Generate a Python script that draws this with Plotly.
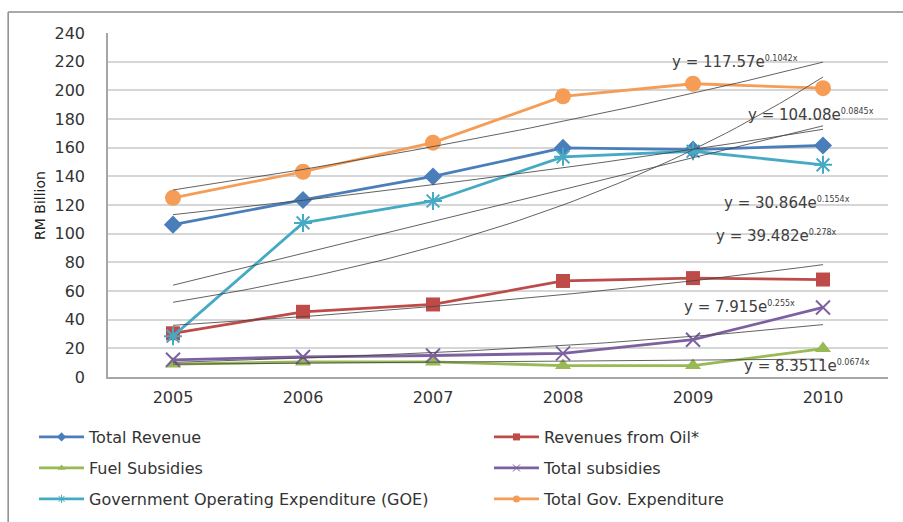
import numpy as np
import plotly.graph_objects as go

# ---- data (RM billion) ----
years = [2005, 2006, 2007, 2008, 2009, 2010]
total_revenue = [106.3, 123.5, 139.9, 159.8, 158.6, 161.5]
oil_revenue = [30.5, 45.5, 50.6, 67.0, 69.0, 68.0]
fuel_subsidies = [9.0, 10.5, 10.5, 8.0, 8.0, 19.8]
total_subsidies = [12.0, 14.0, 15.0, 16.5, 26.0, 48.5]
goe = [28.5, 107.5, 122.8, 153.6, 157.5, 148.0]
total_gov_exp = [125.0, 143.2, 163.5, 195.8, 204.6, 201.5]

# exponential trend fits y = a*e^(b*x), x = 1..6 for 2005..2010
trend_a = [117.57, 104.08, 30.864, 39.482, 7.915, 8.3511]
trend_b = [0.1042, 0.0845, 0.1554, 0.278, 0.255, 0.0674]
trend_a_txt = ["117.57", "104.08", "30.864", "39.482", "7.915", "8.3511"]
trend_b_txt = ["0.1042", "0.0845", "0.1554", "0.278", "0.255", "0.0674"]
# label anchor points (year, value)
label_x = [2009.32, 2009.91, 2009.72, 2009.64, 2009.36, 2009.88]
label_y = [219.5, 182.5, 121.5, 98.5, 48.5, 8.0]

FONT = "DejaVu Sans"
fig = go.Figure()

# name, values, colour, symbol, marker size, marker line width, legend id
series = [
    ("Total Revenue", total_revenue, "#4A7EBB", "diamond", 14, 0, "legend"),
    ("Revenues from Oil*", oil_revenue, "#BE4B48", "square", 14, 0, "legend2"),
    ("Fuel Subsidies", fuel_subsidies, "#98B954", "triangle-up", 14, 0, "legend3"),
    ("Total subsidies", total_subsidies, "#7D60A0", "x-thin-open", 14, 2, "legend4"),
    ("Government Operating Expenditure (GOE)", goe, "#46AAC5", "asterisk-open", 15, 2, "legend5"),
    ("Total Gov. Expenditure", total_gov_exp, "#F59D56", "circle", 16, 0, "legend6"),
]
for name, vals, col, sym, size, lw, leg in series:
    fig.add_trace(go.Scatter(
        x=years, y=vals, name=name, mode="lines+markers",
        line=dict(color=col, width=2.8),
        marker=dict(symbol=sym, size=size, color=col,
                    line=dict(color=col, width=lw)),
        showlegend=False,
    ))

# exponential trend curves
t = np.linspace(1, 6, 61)
for a, b in zip(trend_a, trend_b):
    fig.add_trace(go.Scatter(
        x=2004 + t, y=a * np.exp(b * t), mode="lines",
        line=dict(color="rgba(70,70,70,0.85)", width=1),
        showlegend=False, hoverinfo="skip",
    ))

# linear trend of operating expenditure
k, c = np.polyfit(years, goe, 1)
fig.add_trace(go.Scatter(
    x=[years[0], years[-1]], y=[k * years[0] + c, k * years[-1] + c], mode="lines",
    line=dict(color="rgba(70,70,70,0.85)", width=1),
    showlegend=False, hoverinfo="skip",
))

# legend keys with small markers
for name, vals, col, sym, size, lw, leg in series:
    fig.add_trace(go.Scatter(
        x=[None], y=[None], name=name, mode="lines+markers",
        line=dict(color=col, width=2.8),
        marker=dict(symbol=sym, size=7, color=col,
                    line=dict(color=col, width=min(lw, 1))),
        legend=leg, showlegend=True,
    ))

for xa, ya, at, bt in zip(label_x, label_y, trend_a_txt, trend_b_txt):
    fig.add_annotation(
        x=xa, y=ya, xref="x", yref="y", showarrow=False,
        text=f"y = {at}e<sup><span style='font-size:8px'>{bt}x</span></sup>",
        font=dict(family=FONT, size=15, color="#404040"),
        xanchor="center", yanchor="middle",
    )

# y-axis title
fig.add_annotation(
    x=-0.0872, y=0.5, xref="paper", yref="paper", showarrow=False,
    text="RM Billion", textangle=-90,
    font=dict(family=FONT, size=14, color="#222222"),
    xanchor="center", yanchor="middle",
)

# chart frame
fig.add_shape(type="line", xref="paper", yref="paper",
              x0=-0.128, x1=1.05, y0=1.061, y1=1.061,
              line=dict(color="#8c8c8c", width=1.5))
fig.add_shape(type="line", xref="paper", yref="paper",
              x0=-0.128, x1=-0.128, y0=1.061, y1=-0.5,
              line=dict(color="#8c8c8c", width=1.5))

def key(x, y):
    return dict(
        orientation="v", xref="container", yref="container", x=x, y=y,
        xanchor="left", yanchor="middle",
        font=dict(family=FONT, size=16, color="#333333"),
        bgcolor="rgba(0,0,0,0)", itemwidth=45,
    )

col1, col2 = 0.0377, 0.5415
row1, row2, row3 = 0.1628, 0.1034, 0.0441

fig.update_layout(
    width=903, height=522,
    margin=dict(l=108, r=15, t=33, b=145, autoexpand=False),
    paper_bgcolor="white", plot_bgcolor="white",
    font=dict(family=FONT, color="#333333"),
    xaxis=dict(
        range=[2004.5, 2010.5], tickmode="array", tickvals=years,
        ticktext=[str(y) for y in years],
        tickfont=dict(family=FONT, size=16, color="#333333"),
        ticklabelstandoff=5, automargin=False,
        showgrid=False, showline=True, linecolor="#a6a6a6", linewidth=1.5,
        zeroline=False, ticks="",
    ),
    yaxis=dict(
        range=[0, 240], dtick=20,
        tickfont=dict(family=FONT, size=16, color="#333333"),
        ticklabelstandoff=18, automargin=False,
        showgrid=True, gridcolor="#d6d6d6", gridwidth=1.5,
        showline=True, linecolor="#a6a6a6", linewidth=1.5,
        zeroline=False, ticks="",
    ),
    legend=key(col1, row1),
    legend2=key(col2, row1),
    legend3=key(col1, row2),
    legend4=key(col2, row2),
    legend5=key(col1, row3),
    legend6=key(col2, row3),
)

fig.write_html("out.html")
